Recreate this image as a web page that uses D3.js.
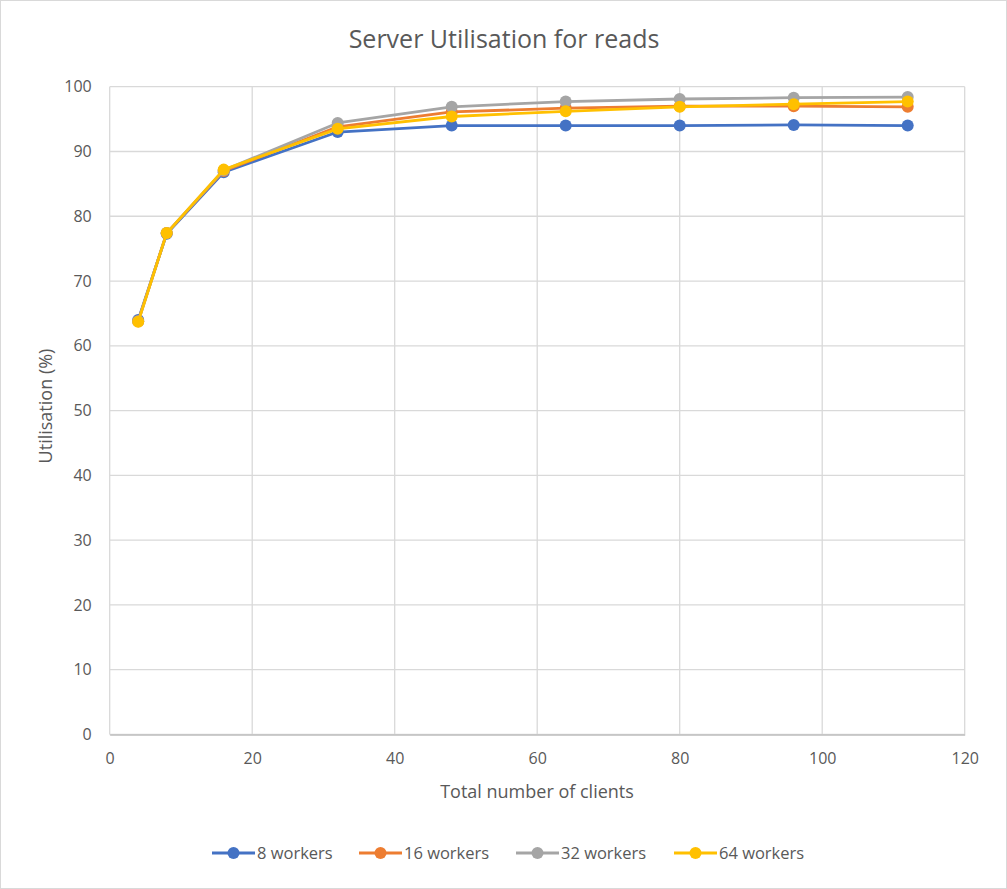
<!DOCTYPE html>
<html>
<head>
<meta charset="utf-8">
<script src="https://cdn.jsdelivr.net/npm/d3@7"></script>
<style>
  body { margin: 0; background: #fff; }
  svg text { font-family: "Open Sans", sans-serif; fill: #595959; }
</style>
</head>
<body>
<div id="root"></div>
<script>
var clients = [4, 8, 16, 32, 48, 64, 80, 96, 112];
var seriesNames = ["8 workers", "16 workers", "32 workers", "64 workers"];
var colors = ["#4472c4", "#ed7d31", "#a5a5a5", "#ffc000"];
var w8  = [64.0, 77.3, 86.8, 93.0, 94.0, 94.0, 94.0, 94.1, 94.0];
var w16 = [63.8, 77.4, 87.0, 93.8, 96.1, 96.7, 97.0, 97.0, 96.9];
var w32 = [63.8, 77.4, 87.1, 94.4, 96.9, 97.7, 98.1, 98.3, 98.4];
var w64 = [63.7, 77.4, 87.2, 93.5, 95.4, 96.2, 96.9, 97.3, 97.7];
var xTicks = [0, 20, 40, 60, 80, 100, 120];
var yTicks = [0, 10, 20, 30, 40, 50, 60, 70, 80, 90, 100];

var width = 1007, height = 889;
var allSeries = [w8, w16, w32, w64];

var svg = d3.select("#root").append("svg")
    .attr("width", width)
    .attr("height", height);

svg.append("rect")
    .attr("x", 0.5).attr("y", 0.5)
    .attr("width", width - 1).attr("height", height - 1)
    .attr("fill", "#fff")
    .attr("stroke", "#d9d9d9");

var x = d3.scaleLinear().domain([0, 120]).range([109.7, 964.7]);
var y = d3.scaleLinear().domain([0, 100]).range([734.5, 86.7]);

// gridlines
svg.append("g").selectAll("line")
    .data(yTicks).enter().append("line")
    .attr("x1", x(0)).attr("x2", x(120))
    .attr("y1", function(d) { return y(d); })
    .attr("y2", function(d) { return y(d); })
    .attr("stroke", "#d9d9d9").attr("stroke-width", 1.3);

svg.append("g").selectAll("line")
    .data(xTicks).enter().append("line")
    .attr("y1", y(0)).attr("y2", y(100))
    .attr("x1", function(d) { return x(d); })
    .attr("x2", function(d) { return x(d); })
    .attr("stroke", "#d9d9d9").attr("stroke-width", 1.3);

// axes
var xAxis = svg.append("g")
    .attr("transform", "translate(0," + y(0) + ")")
    .call(d3.axisBottom(x).tickValues(xTicks).tickSize(0).tickPadding(18));
xAxis.select(".domain").attr("stroke", "#bfbfbf").attr("stroke-width", 1.3);
xAxis.selectAll("text").style("font-size", "16px");

var yAxis = svg.append("g")
    .attr("transform", "translate(" + x(0) + ",0)")
    .call(d3.axisLeft(y).tickValues(yTicks).tickSize(0).tickPadding(18));
yAxis.select(".domain").remove();
yAxis.selectAll("text").style("font-size", "16px");

svg.append("text")
    .attr("x", 504).attr("y", 48)
    .attr("text-anchor", "middle")
    .style("font-size", "25px")
    .text("Server Utilisation for reads");

svg.append("text")
    .attr("x", 537).attr("y", 798)
    .attr("text-anchor", "middle")
    .style("font-size", "18px")
    .text("Total number of clients");

svg.append("text")
    .attr("transform", "translate(52,406) rotate(-90)")
    .attr("text-anchor", "middle")
    .style("font-size", "18px")
    .text("Utilisation (%)");

// series
var line = d3.line()
    .x(function(d, i) { return x(clients[i]); })
    .y(function(d) { return y(d); });

allSeries.forEach(function(vals, k) {
    var g = svg.append("g");
    g.append("path")
        .datum(vals)
        .attr("d", line)
        .attr("fill", "none")
        .attr("stroke", colors[k])
        .attr("stroke-width", 2.8)
        .attr("stroke-linejoin", "round");
    g.selectAll("circle")
        .data(vals).enter().append("circle")
        .attr("cx", function(d, i) { return x(clients[i]); })
        .attr("cy", function(d) { return y(d); })
        .attr("r", 6)
        .attr("fill", colors[k]);
});

// legend
var legendX = [212, 359, 516, 674];
var legend = svg.append("g");
seriesNames.forEach(function(name, k) {
    var lg = legend.append("g").attr("transform", "translate(" + legendX[k] + ",853)");
    lg.append("line").attr("x1", 0).attr("x2", 43)
        .attr("stroke", colors[k]).attr("stroke-width", 2.8);
    lg.append("circle").attr("cx", 21.5).attr("r", 6).attr("fill", colors[k]);
    lg.append("text").attr("x", 45).attr("y", 6)
        .style("font-size", "16.5px").text(name);
});
</script>
</body>
</html>
